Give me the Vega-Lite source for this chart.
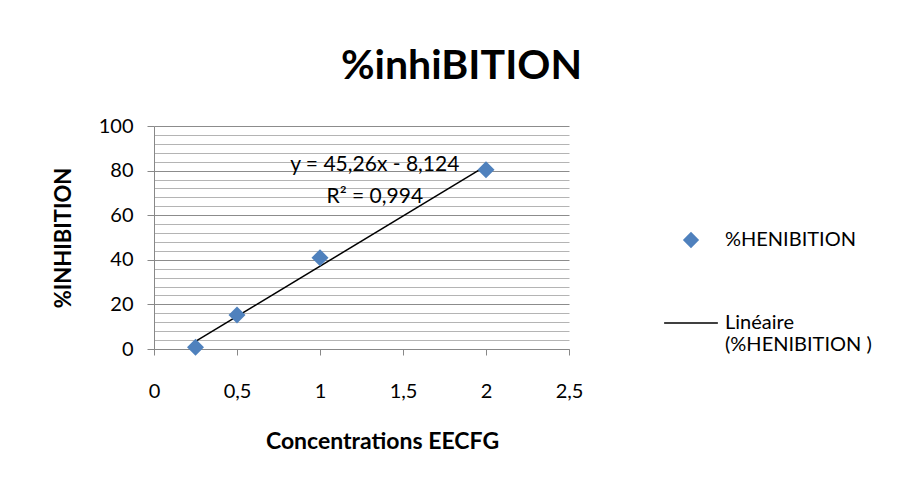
{
  "$schema": "https://vega.github.io/schema/vega-lite/v6.json",
  "autosize": "none",
  "width": 415,
  "height": 223,
  "padding": {"left": 154, "top": 126, "right": 335, "bottom": 138},
  "background": "white",
  "config": {
    "font": "Lato",
    "view": {"stroke": null},
    "axis": {"labelFont": "Lato", "titleFont": "Lato", "labelColor": "black", "titleColor": "black"}
  },
  "title": {
    "text": "%inhiBITION",
    "font": "Lato",
    "fontSize": 41,
    "fontWeight": "bold",
    "color": "black",
    "anchor": "middle",
    "frame": "group",
    "dx": 100,
    "offset": 28
  },
  "data": {
    "values": [
      {"conc": 0.25, "inhib": 0.8, "series": "%HENIBITION"},
      {"conc": 0.5, "inhib": 15.2, "series": "%HENIBITION"},
      {"conc": 1, "inhib": 40.9, "series": "%HENIBITION"},
      {"conc": 2, "inhib": 80.4, "series": "%HENIBITION"}
    ]
  },
  "encoding": {
    "x": {
      "field": "conc",
      "type": "quantitative",
      "scale": {"domain": [0, 2.5], "nice": false, "zero": false},
      "axis": {
        "title": "Concentrations EECFG",
        "titleFontSize": 23,
        "titleFontWeight": "bold",
        "titlePadding": 29,
        "titleX": 228,
        "titleAnchor": "start",
        "titleAlign": "center",
        "values": [0, 0.5, 1, 1.5, 2, 2.5],
        "labelExpr": "replace(format(datum.value, '~g'), '.', ',')",
        "labelFontSize": 20,
        "labelPadding": 26,
        "tickSize": 6,
        "tickColor": "#888888",
        "domainColor": "#888888",
        "grid": false,
        "labelFlush": false
      }
    },
    "y": {
      "field": "inhib",
      "type": "quantitative",
      "scale": {"domain": [0, 100], "nice": false},
      "axis": {
        "title": "%INHIBITION",
        "titleFontSize": 22,
        "titleFontWeight": "bold",
        "titlePadding": 23,
        "values": [0, 4, 8, 12, 16, 20, 24, 28, 32, 36, 40, 44, 48, 52, 56, 60, 64, 68, 72, 76, 80, 84, 88, 92, 96, 100],
        "labelExpr": "datum.value % 20 === 0 ? datum.label : ''",
        "labelFontSize": 20,
        "labelPadding": 14,
        "tickSize": 7,
        "tickColor": "#888888",
        "tickOpacity": {"condition": {"test": "datum.value % 20 === 0", "value": 1}, "value": 0},
        "domainColor": "#888888",
        "grid": true,
        "gridColor": {"condition": {"test": "datum.value % 20 === 0", "value": "#8c8c8c"}, "value": "#b4b4b4"},
        "gridWidth": 1,
        "labelFlush": false
      }
    }
  },
  "layer": [
    {
      "transform": [
        {"regression": "inhib", "on": "conc", "extent": [0.25, 2]},
        {"calculate": "'Linéaire (%HENIBITION )'", "as": "series"}
      ],
      "mark": {"type": "line", "strokeWidth": 1.5},
      "encoding": {
        "color": {"field": "series", "type": "nominal"}
      }
    },
    {
      "mark": {"type": "point", "filled": true, "opacity": 1, "size": 290},
      "encoding": {
        "shape": {
          "field": "series",
          "type": "nominal",
          "scale": {"domain": ["%HENIBITION", "Linéaire (%HENIBITION )"], "range": ["diamond", "M-3.8,0H3.8"]}
        },
        "color": {
          "field": "series",
          "type": "nominal",
          "scale": {"domain": ["%HENIBITION", "Linéaire (%HENIBITION )"], "range": ["#4F81BD", "black"]},
          "legend": {
            "title": null,
            "orient": "none",
            "legendX": 527,
            "legendY": 104,
            "labelFont": "Lato",
            "labelFontSize": 20,
            "labelColor": "black",
            "labelLimit": 300,
            "rowPadding": 62,
            "labelOffset": 24,
            "symbolSize": 200,
            "labelExpr": "datum.label === '%HENIBITION' ? datum.label : ['Linéaire', '(%HENIBITION )']",
            "encode": {
              "symbols": {
                "update": {
                  "stroke": {"signal": "datum.value === '%HENIBITION' ? 'transparent' : 'black'"},
                  "strokeWidth": {"value": 1.5},
                  "fill": {"signal": "datum.value === '%HENIBITION' ? '#4F81BD' : 'transparent'"}
                }
              }
            }
          }
        }
      }
    },
    {
      "data": {"values": [{"eq": "y = 45,26x - 8,124\nR² = 0,994", "cx": 1.33, "cy": 82.5}]},
      "mark": {"type": "text", "fontSize": 21, "font": "Lato", "fontWeight": "normal", "align": "center", "baseline": "middle", "lineHeight": 32, "color": "black", "lineBreak": "\n"},
      "encoding": {
        "x": {"field": "cx", "type": "quantitative"},
        "y": {"field": "cy", "type": "quantitative"},
        "text": {"field": "eq"}
      }
    }
  ]
}
